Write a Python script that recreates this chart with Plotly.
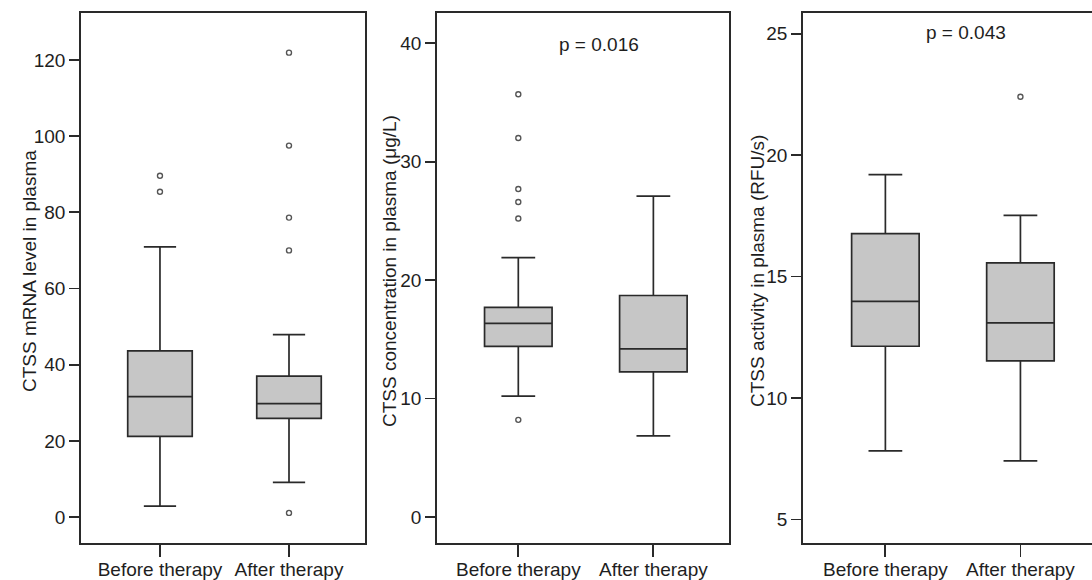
import plotly.graph_objects as go

W, H = 1092, 580

groups = ["Before therapy", "After therapy"]

# Panel 1: CTSS mRNA level in plasma
mrna_q1 = [21.2, 25.9]
mrna_median = [31.6, 29.8]
mrna_q3 = [43.6, 37.0]
mrna_lower = [2.9, 9.1]
mrna_upper = [70.9, 47.9]
mrna_out_before = [89.6, 85.4]
mrna_out_after = [121.9, 97.5, 78.6, 70.0, 1.1]

# Panel 2: CTSS concentration in plasma (μg/L)
conc_q1 = [14.4, 12.25]
conc_median = [16.35, 14.2]
conc_q3 = [17.7, 18.7]
conc_lower = [10.2, 6.85]
conc_upper = [21.9, 27.1]
conc_out_before = [35.7, 32.0, 27.7, 26.6, 25.2, 8.2]
conc_out_after = []

# Panel 3: CTSS activity in plasma (RFU/s)
act_q1 = [12.13, 11.53]
act_median = [13.98, 13.09]
act_q3 = [16.77, 15.56]
act_lower = [7.82, 7.41]
act_upper = [19.2, 17.52]
act_out_before = []
act_out_after = [22.4]

titles = ["CTSS mRNA level in plasma",
          "CTSS concentration in plasma (μg/L)",
          "CTSS activity in plasma (RFU/s)"]
pvals = [None, "p = 0.016", "p = 0.043"]

panels = [
    dict(q1=mrna_q1, med=mrna_median, q3=mrna_q3, lo=mrna_lower, hi=mrna_upper,
         outs=[mrna_out_before, mrna_out_after],
         yrange=[-6.8, 132.3], ticks=[0, 20, 40, 60, 80, 100, 120],
         xpx=(81, 365), xrange=[-0.612, 1.589], title_x=29, p_pos=None, mirror_y=True),
    dict(q1=conc_q1, med=conc_median, q3=conc_q3, lo=conc_lower, hi=conc_upper,
         outs=[conc_out_before, conc_out_after],
         yrange=[-2.2, 42.56], ticks=[0, 10, 20, 30, 40],
         xpx=(437, 729), xrange=[-0.602, 1.56], title_x=389, p_pos=(599, 45), mirror_y=True),
    dict(q1=act_q1, med=act_median, q3=act_q3, lo=act_lower, hi=act_upper,
         outs=[act_out_before, act_out_after],
         yrange=[4.03, 25.85], ticks=[5, 10, 15, 20, 25],
         xpx=(803, 1092), xrange=[-0.61, 1.53], title_x=757, p_pos=(966, 33), mirror_y=False),
]

top_px, bot_px = 13, 543
ydom = [(H - bot_px) / H, (H - top_px) / H]

fig = go.Figure()
FONT = "Liberation Sans, Arial, sans-serif"
LINE = "#2a2a2a"
TXT = "#1e1e1e"

for i, p in enumerate(panels):
    n = "" if i == 0 else str(i + 1)
    xa, ya = "x" + n, "y" + n
    fig.add_trace(go.Box(
        x=[0, 1], q1=p["q1"], median=p["med"], q3=p["q3"],
        lowerfence=p["lo"], upperfence=p["hi"],
        width=0.5, whiskerwidth=0.5,
        fillcolor="#c6c6c6", line=dict(color=LINE, width=1.7),
        boxpoints=False, showlegend=False, xaxis=xa, yaxis=ya, hoverinfo="skip"))
    for gi, outs in enumerate(p["outs"]):
        if outs:
            fig.add_trace(go.Scatter(
                x=[gi] * len(outs), y=outs, mode="markers",
                marker=dict(symbol="circle-open", size=5, color="#555555",
                            line=dict(width=1.4, color="#555555")),
                showlegend=False, xaxis=xa, yaxis=ya, hoverinfo="skip"))
    xdom = [p["xpx"][0] / W, p["xpx"][1] / W]
    axfont = dict(family=FONT, size=19, color=TXT)
    fig.update_layout(**{
        "xaxis" + n: dict(domain=xdom, range=p["xrange"], tickvals=[0, 1], ticktext=groups,
                          showline=True, linecolor=LINE, linewidth=1.8, mirror=True,
                          ticks="outside", ticklen=12, tickwidth=1.8, tickcolor=LINE,
                          ticklabelstandoff=-4,
                          showgrid=False, zeroline=False, tickfont=axfont,
                          anchor=ya, automargin=False, fixedrange=True),
        "yaxis" + n: dict(domain=ydom, range=p["yrange"], tickvals=p["ticks"],
                          showline=True, linecolor=LINE, linewidth=1.8, mirror=p["mirror_y"],
                          ticks="outside", ticklen=10, tickwidth=1.8, tickcolor=LINE,
                          showgrid=False, zeroline=False, tickfont=axfont,
                          anchor=xa, automargin=False, fixedrange=True),
    })
    fig.add_annotation(text=titles[i], textangle=-90, xref="paper", yref="paper",
                       x=p["title_x"] / W, y=(H - 271) / H, xanchor="center", yanchor="middle",
                       showarrow=False, font=dict(family=FONT, size=19, color=TXT))
    if p["p_pos"]:
        fig.add_annotation(text=pvals[i], xref="paper", yref="paper",
                           x=p["p_pos"][0] / W, y=(H - p["p_pos"][1]) / H,
                           xanchor="center", yanchor="middle", showarrow=False,
                           font=dict(family=FONT, size=19, color=TXT))

fig.update_layout(width=W, height=H, margin=dict(l=0, r=0, t=0, b=0),
                  paper_bgcolor="white", plot_bgcolor="white")

fig.write_html("out.html", config={"displayModeBar": False, "staticPlot": True},
               post_script="document.body.style.margin='0';document.body.style.overflow='hidden';")
